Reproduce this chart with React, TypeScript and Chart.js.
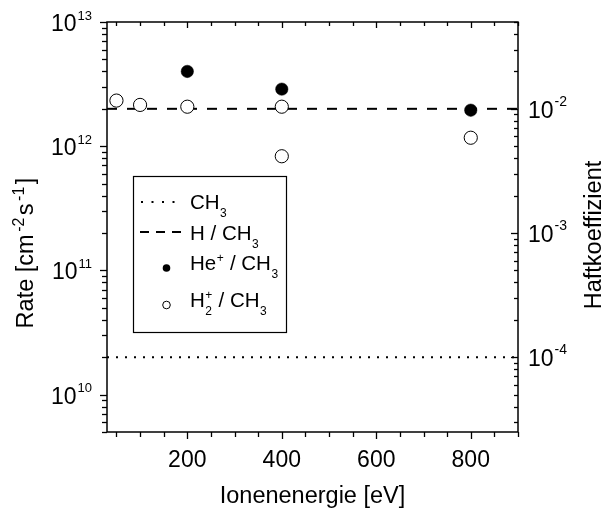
import React, { useEffect, useRef } from "react";
import { Chart, registerables } from "chart.js";

Chart.register(...registerables);

// ---- data ----
const energyHe = [200, 400, 800];
const rateHe = [4.0e12, 2.88e12, 1.95e12];
const energyH2 = [50, 100, 200, 400, 400, 800];
const rateH2 = [2.33e12, 2.15e12, 2.08e12, 2.08e12, 8.3e11, 1.17e12];
const stickCH3 = 1e-4;
const stickH = 1e-2;
const xRange = [30, 900];
const rateRange = [5e9, 1e13];
const stickRange = [2.5e-5, 5e-2];
const xMajorTicks = [200, 400, 600, 800];
const xMinorStep = 50;
const leftDecades = [10, 11, 12, 13];
const rightDecades = [-4, -3, -2];

const FONT = '"Liberation Sans", Arial, Helvetica, sans-serif';

type Seg = { t?: string; sub?: string; sup?: string };

function drawRich(
  ctx: CanvasRenderingContext2D,
  x: number,
  y: number,
  segs: Seg[],
  main: number,
  small: number,
  supOff: number,
  subOff: number,
  gap = 0.5,
  measureOnly = false
): number {
  let cx = x;
  for (const s of segs) {
    if (s.t) {
      ctx.font = `${main}px ${FONT}`;
      if (!measureOnly) ctx.fillText(s.t, cx, y);
      cx += ctx.measureText(s.t).width;
    } else {
      ctx.font = `${small}px ${FONT}`;
      cx += gap;
      let w = 0;
      if (s.sup) {
        if (!measureOnly) ctx.fillText(s.sup, cx, y - supOff);
        w = Math.max(w, ctx.measureText(s.sup).width);
      }
      if (s.sub) {
        if (!measureOnly) ctx.fillText(s.sub, cx, y + subOff);
        w = Math.max(w, ctx.measureText(s.sub).width);
      }
      cx += w + gap;
    }
  }
  return cx - x;
}

const decorPlugin = {
  id: "decor",
  afterDraw(chart: any) {
    const ctx: CanvasRenderingContext2D = chart.ctx;
    const { left, right, top, bottom } = chart.chartArea;
    const xs = chart.scales.x;
    const yl = chart.scales.y;
    const yr = chart.scales.y2;
    ctx.save();
    ctx.strokeStyle = "#000";
    ctx.fillStyle = "#000";
    ctx.lineWidth = 1.5;
    ctx.strokeRect(left, top, right - left, bottom - top);

    // x ticks
    ctx.lineWidth = 1.3;
    for (let v = xMinorStep; v <= xRange[1]; v += xMinorStep) {
      if (v < xRange[0]) continue;
      const px = Math.round(xs.getPixelForValue(v)) + 0.5;
      const major = xMajorTicks.includes(v);
      ctx.beginPath();
      ctx.moveTo(px, bottom);
      ctx.lineTo(px, bottom + (major ? 7 : 5));
      ctx.moveTo(px, top);
      ctx.lineTo(px, top + (major ? 6 : 4));
      ctx.stroke();
    }
    // left ticks (outside)
    for (let e = 9; e <= 13; e++) {
      for (let m = 1; m <= 9; m++) {
        const val = m * Math.pow(10, e);
        if (val < rateRange[0] * 0.999 || val > rateRange[1] * 1.001) continue;
        const py = Math.round(yl.getPixelForValue(val)) + 0.5;
        const len = m === 1 ? 7 : 5;
        ctx.beginPath();
        ctx.moveTo(left - len, py);
        ctx.lineTo(left, py);
        ctx.stroke();
      }
    }
    // right ticks (inside)
    for (let e = -5; e <= -1; e++) {
      for (let m = 1; m <= 9; m++) {
        const val = m * Math.pow(10, e);
        if (val < stickRange[0] * 0.999 || val > stickRange[1] * 1.001) continue;
        const py = Math.round(yr.getPixelForValue(val)) + 0.5;
        const len = m === 1 ? 7 : 4;
        ctx.beginPath();
        ctx.moveTo(right - len, py);
        ctx.lineTo(right, py);
        ctx.stroke();
      }
    }

    // x tick labels
    ctx.font = `23px ${FONT}`;
    ctx.textAlign = "center";
    ctx.textBaseline = "alphabetic";
    for (const v of xMajorTicks) {
      ctx.fillText(String(v), xs.getPixelForValue(v), bottom + 35);
    }
    // left labels
    ctx.textAlign = "left";
    for (const e of leftDecades) {
      const py = yl.getPixelForValue(Math.pow(10, e));
      ctx.font = `13px ${FONT}`;
      const sw = ctx.measureText(String(e)).width;
      const sx = left - 15 - sw;
      ctx.fillText(String(e), sx, py - 2.5);
      ctx.font = `23px ${FONT}`;
      const mw = ctx.measureText("10").width;
      ctx.fillText("10", sx - 1 - mw, py + 9);
    }
    // right labels
    for (const e of rightDecades) {
      const py = yr.getPixelForValue(Math.pow(10, e));
      const x0 = right + 10;
      ctx.font = `23px ${FONT}`;
      ctx.fillText("10", x0, py + 9);
      const mw = ctx.measureText("10").width;
      ctx.font = `14px ${FONT}`;
      ctx.fillText(String(e), x0 + mw + 1, py - 3);
    }

    // x title
    ctx.font = `23.5px ${FONT}`;
    ctx.textAlign = "center";
    ctx.fillText("Ionenenergie [eV]", (left + right) / 2, 503);

    // left title (rotated)
    ctx.textAlign = "left";
    const rateSegs: Seg[] = [
      { t: "Rate [cm" },
      { sup: "-2" },
      { t: "s" },
      { sup: "-1" },
      { t: "]" },
    ];
    ctx.save();
    ctx.translate(33, 253);
    ctx.rotate(-Math.PI / 2);
    const rw = drawRich(ctx, 0, 0, rateSegs, 23.5, 16, 9, 0, 2.5, true);
    drawRich(ctx, -rw / 2, 0, rateSegs, 23.5, 16, 9, 0, 2.5);
    ctx.restore();

    // right title
    ctx.save();
    ctx.translate(601, 235);
    ctx.rotate(-Math.PI / 2);
    ctx.font = `23.5px ${FONT}`;
    ctx.textAlign = "center";
    ctx.fillText("Haftkoeffizient", 0, 0);
    ctx.restore();

    // legend
    const bx = 133, by = 176, bw = 153, bh = 156;
    ctx.fillStyle = "#fff";
    ctx.fillRect(bx, by, bw, bh);
    ctx.fillStyle = "#000";
    ctx.lineWidth = 1.2;
    ctx.strokeRect(bx + 0.5, by + 0.5, bw, bh);
    ctx.textAlign = "left";
    const tx = 190;
    // dotted
    ctx.lineWidth = 2;
    ctx.setLineDash([2, 8.5]);
    ctx.beginPath();
    ctx.moveTo(141, 202);
    ctx.lineTo(181, 202);
    ctx.stroke();
    // dashed
    ctx.setLineDash([9, 7]);
    ctx.beginPath();
    ctx.moveTo(140, 232);
    ctx.lineTo(186, 232);
    ctx.stroke();
    ctx.setLineDash([]);
    // filled marker
    ctx.beginPath();
    ctx.arc(166.5, 268, 3.8, 0, Math.PI * 2);
    ctx.fill();
    // open marker
    ctx.lineWidth = 1;
    ctx.beginPath();
    ctx.arc(166.5, 305, 3.8, 0, Math.PI * 2);
    ctx.stroke();

    drawRich(ctx, tx, 208.5, [{ t: "CH" }, { sub: "3" }], 20.5, 12, 8, 8);
    drawRich(ctx, tx, 240, [{ t: "H / CH" }, { sub: "3" }], 20.5, 12, 8, 8);
    drawRich(ctx, tx, 270, [{ t: "He" }, { sup: "+" }, { t: " / CH" }, { sub: "3" }], 20.5, 12, 8, 8);
    drawRich(ctx, tx, 306.5, [{ t: "H" }, { sub: "2", sup: "+" }, { t: " / CH" }, { sub: "3" }], 20.5, 12, 8, 8);

    ctx.restore();
  },
};

export default function App() {
  const ref = useRef<HTMLCanvasElement | null>(null);
  useEffect(() => {
    if (!ref.current) return;
    const chart = new Chart(ref.current, {
      type: "scatter",
      data: {
        datasets: [
          {
            label: "He+ / CH3",
            data: energyHe.map((x, i) => ({ x, y: rateHe[i] })),
            yAxisID: "y",
            pointRadius: 6.2,
            pointBackgroundColor: "#000",
            pointBorderColor: "#000",
            pointBorderWidth: 0.5,
            order: 0,
          },
          {
            label: "H2+ / CH3",
            data: energyH2.map((x, i) => ({ x, y: rateH2[i] })),
            yAxisID: "y",
            pointRadius: 6.6,
            pointBackgroundColor: "#fff",
            pointBorderColor: "#000",
            pointBorderWidth: 1,
            order: 0,
          },
          {
            label: "CH3",
            data: [
              { x: xRange[0], y: stickCH3 },
              { x: xRange[1], y: stickCH3 },
            ],
            yAxisID: "y2",
            showLine: true,
            pointRadius: 0,
            borderColor: "#000",
            borderWidth: 2,
            borderDash: [2, 7],
            order: 2,
          },
          {
            label: "H / CH3",
            data: [
              { x: xRange[0], y: stickH },
              { x: xRange[1], y: stickH },
            ],
            yAxisID: "y2",
            showLine: true,
            pointRadius: 0,
            borderColor: "#000",
            borderWidth: 2,
            borderDash: [10, 10],
            order: 2,
          },
        ],
      },
      options: {
        animation: false,
        responsive: false,
        devicePixelRatio: 1,
        layout: { padding: { top: 22, left: 0, right: 0, bottom: 0 } },
        plugins: { legend: { display: false }, tooltip: { enabled: false } },
        scales: {
          x: {
            type: "linear",
            min: xRange[0],
            max: xRange[1],
            grid: { display: false },
            border: { display: false },
            ticks: { display: false },
            afterFit: (s: any) => {
              s.height = 84;
            },
          },
          y: {
            type: "logarithmic",
            position: "left",
            min: rateRange[0],
            max: rateRange[1],
            grid: { display: false },
            border: { display: false },
            ticks: { display: false },
            afterFit: (s: any) => {
              s.width = 107;
            },
          },
          y2: {
            type: "logarithmic",
            position: "right",
            min: stickRange[0],
            max: stickRange[1],
            grid: { display: false },
            border: { display: false },
            ticks: { display: false },
            afterFit: (s: any) => {
              s.width = 85;
            },
          },
        },
      },
      plugins: [decorPlugin],
    });
    return () => chart.destroy();
  }, []);
  return (
    <div style={{ position: "fixed", left: 0, top: 0, width: 603, height: 516, background: "#fff" }}>
      <canvas ref={ref} width={603} height={516} style={{ display: "block" }} />
    </div>
  );
}
